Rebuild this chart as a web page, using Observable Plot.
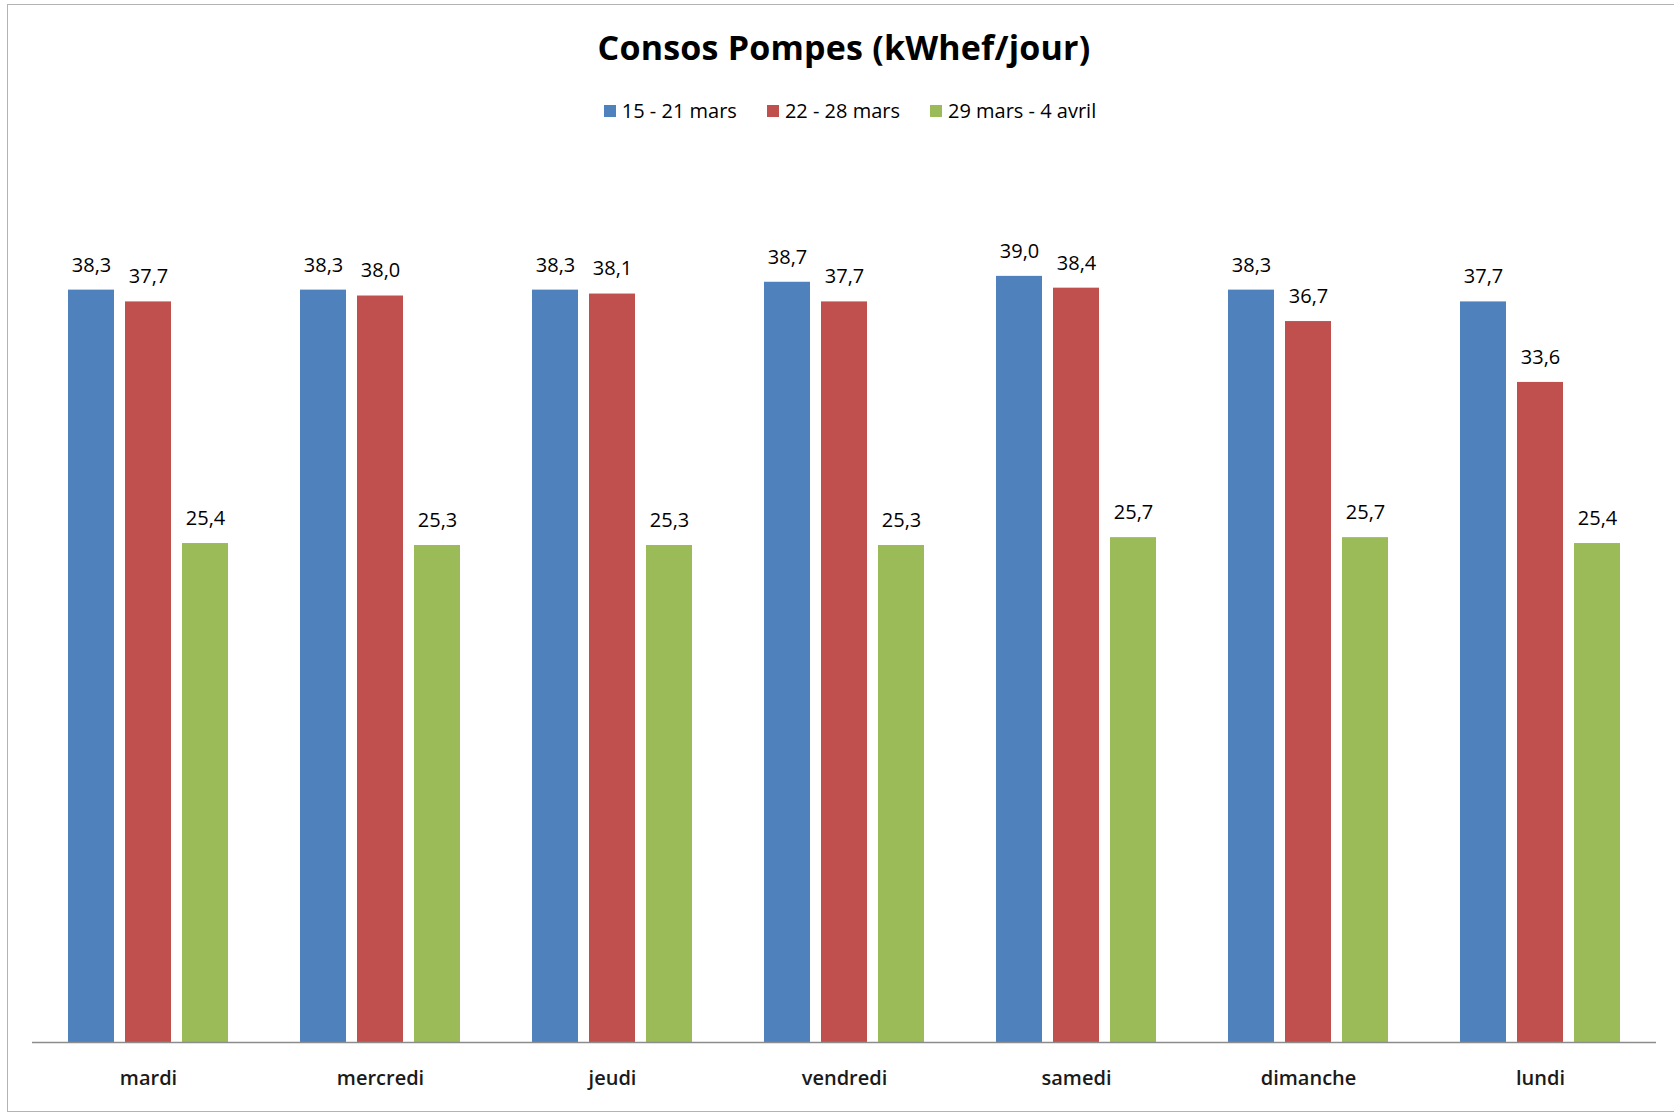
<!DOCTYPE html>
<html>
<head>
<meta charset="utf-8">
<script src="https://cdn.jsdelivr.net/npm/d3@7"></script>
<script src="https://cdn.jsdelivr.net/npm/@observablehq/plot@0.6"></script>
<style>
  html, body { margin: 0; padding: 0; background: #fff; overflow: hidden; }
  body { width: 1674px; height: 1114px; position: relative; font-family: "Open Sans", "Noto Sans", sans-serif; color: #000; }
  #frame { position: absolute; left: 7px; top: 4px; width: 1690px; height: 1108px; border: 1px solid #b3b3b3; box-sizing: border-box; }
  #title { position: absolute; left: 0; width: 1688px; top: 24px; text-align: center; font-size: 34px; font-weight: 700; letter-spacing: 0.2px; }
  #legend { position: absolute; left: 6px; width: 1688px; top: 97px; display: flex; justify-content: center; gap: 30px; font-size: 20px; }
  #legend .item { display: flex; align-items: center; gap: 6px; }
  #legend .sw { width: 12px; height: 12px; display: inline-block; }
  #chart { position: absolute; left: 0; top: 130px; }
</style>
</head>
<body>
<div id="frame"></div>
<div id="title">Consos Pompes (kWhef/jour)</div>
<div id="legend"></div>
<div id="chart"></div>
<script>
// Daily pump consumption (kWh final energy per day), three consecutive weeks
const days = ["mardi", "mercredi", "jeudi", "vendredi", "samedi", "dimanche", "lundi"];
const seriesNames = ["15 - 21 mars", "22 - 28 mars", "29 mars - 4 avril"];
const week1 = [38.3, 38.3, 38.3, 38.7, 39.0, 38.3, 37.7];
const week2 = [37.7, 38.0, 38.1, 37.7, 38.4, 36.7, 33.6];
const week3 = [25.4, 25.3, 25.3, 25.3, 25.7, 25.7, 25.4];
const seriesColors = ["#4F81BD", "#C0504D", "#9BBB59"];

const allSeries = [week1, week2, week3];
const rows = [];
days.forEach((day, i) => {
  allSeries.forEach((vals, s) => {
    rows.push({ day, series: seriesNames[s], value: vals[i] });
  });
});

const fmt = v => d3.format(".1f")(v).replace(".", ",");

// legend
const legend = document.getElementById("legend");
seriesNames.forEach((name, i) => {
  const item = document.createElement("span");
  item.className = "item";
  const sw = document.createElement("span");
  sw.className = "sw";
  sw.style.background = seriesColors[i];
  const label = document.createElement("span");
  label.textContent = name;
  item.append(sw, label);
  legend.append(item);
});

const chart = Plot.plot({
  width: 1674,
  height: 984,
  marginLeft: 31,
  marginRight: 18,
  marginTop: 28,
  marginBottom: 72,
  style: { fontFamily: "'Open Sans', 'Noto Sans', sans-serif", fontSize: "20px", color: "#000", background: "transparent" },
  fx: { domain: days, padding: 0, label: null, axis: "bottom", tickSize: 0, tickPadding: 28 },
  x: { domain: seriesNames, paddingInner: 0.2, paddingOuter: 0.6175, axis: null },
  y: { domain: [0, 45], axis: null },
  color: { domain: seriesNames, range: seriesColors },
  marks: [
    Plot.barY(rows, { fx: "day", x: "series", y: "value", fill: "series" }),
    Plot.text(rows, { fx: "day", x: "series", y: "value", text: d => fmt(d.value), dy: -25, fontSize: 20, fill: "#000" }),
    Plot.ruleY([0], { stroke: "#8c8c8c", strokeWidth: 1.5 })
  ]
});
// day labels a little heavier than the value labels
chart.querySelectorAll("[aria-label='fx-axis tick label'] text").forEach(t => {
  t.setAttribute("font-size", "20");
  t.setAttribute("font-weight", "600");
  t.setAttribute("fill", "#1a1a1a");
});
document.getElementById("chart").append(chart);
</script>
</body>
</html>
